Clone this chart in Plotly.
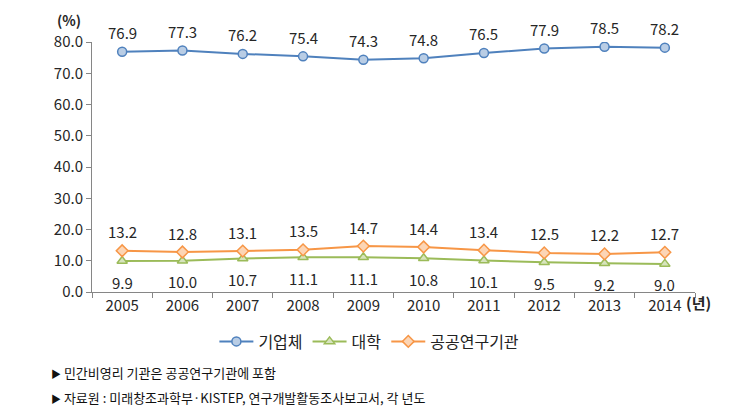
import plotly.graph_objects as go

years = ["2005", "2006", "2007", "2008", "2009", "2010", "2011", "2012", "2013", "2014"]
company = [76.9, 77.3, 76.2, 75.4, 74.3, 74.8, 76.5, 77.9, 78.5, 78.2]
university = [9.9, 10.0, 10.7, 11.1, 11.1, 10.8, 10.1, 9.5, 9.2, 9.0]
public = [13.2, 12.8, 13.1, 13.5, 14.7, 14.4, 13.4, 12.5, 12.2, 12.7]
y_ticks = [0, 10, 20, 30, 40, 50, 60, 70, 80]
notes = ["민간비영리 기관은 공공연구기관에 포함",
         "자료원 : 미래창조과학부·KISTEP, 연구개발활동조사보고서, 각 년도"]

FONT = "Noto Sans CJK KR"
TXT = "#262626"

fig = go.Figure()
fig.add_trace(go.Scatter(x=years, y=company, name="기업체", mode="lines+markers",
                         line=dict(color="#4f81bd", width=2),
                         marker=dict(symbol="circle", size=9, color="#b9cde5",
                                     line=dict(color="#4f81bd", width=1.5))))
fig.add_trace(go.Scatter(x=years, y=university, name="대학", mode="lines+markers",
                         line=dict(color="#9bbb59", width=2),
                         marker=dict(symbol="triangle-up", size=9, color="#d7e4bd",
                                     line=dict(color="#9bbb59", width=1.5))))
fig.add_trace(go.Scatter(x=years, y=public, name="공공연구기관", mode="lines+markers",
                         line=dict(color="#f79646", width=2),
                         marker=dict(symbol="diamond", size=9, color="#fcd5b5",
                                     line=dict(color="#f79646", width=1.5))))

ann = []
for i, v in enumerate(company):
    ann.append(dict(x=i, y=v, text=f"{v:.1f}", showarrow=False, yshift=19,
                    font=dict(size=15, color=TXT, family=FONT)))
for i, v in enumerate(public):
    ann.append(dict(x=i, y=v, text=f"{v:.1f}", showarrow=False, yshift=19,
                    font=dict(size=15, color=TXT, family=FONT)))
for i, v in enumerate(university):
    ann.append(dict(x=i, y=v, text=f"{v:.1f}", showarrow=False, yshift=-21,
                    font=dict(size=15, color=TXT, family=FONT)))
ann.append(dict(xref="paper", yref="paper", x=-0.015, y=1.0, yshift=34, yanchor="top",
                text="<b>(%)</b>", showarrow=False, xanchor="right",
                font=dict(size=14, color=TXT, family=FONT)))
ann.append(dict(xref="paper", yref="paper", x=1.0, y=0, yshift=-23, xshift=-11, text="<b>(년)</b>",
                showarrow=False, xanchor="left", font=dict(size=15, color=TXT, family=FONT)))
for i, n in enumerate(notes):
    ann.append(dict(xref="paper", yref="paper", x=-0.072, y=0, yshift=-80 - 25 * i,
                    yanchor="middle",
                    text="<span style='font-size:10px'>▶</span> " + n,
                    showarrow=False, xanchor="left", font=dict(size=13, color="#111", family=FONT)))

fig.update_layout(
    width=744, height=410,
    margin=dict(l=92, r=49, t=42, b=118),
    paper_bgcolor="white", plot_bgcolor="white",
    font=dict(family=FONT, color=TXT),
    showlegend=True,
    legend=dict(orientation="h", x=0.46, xanchor="center", y=-0.13, yanchor="top",
                font=dict(size=16, color="#222", family=FONT), itemwidth=34,
                tracegroupgap=0),
    annotations=ann,
)
fig.update_xaxes(type="category", range=[-0.5, 9.5], showline=True, linecolor="#868686",
                 linewidth=1, ticks="outside", tickson="boundaries", ticklen=5,
                 tickcolor="#868686", tickangle=0,
                 tickfont=dict(size=15, color=TXT, family=FONT), showgrid=False)
fig.update_yaxes(range=[0, 80], tickvals=y_ticks, tickformat=".1f", showline=True,
                 linecolor="#868686", linewidth=1, ticks="outside", ticklen=5,
                 tickcolor="#868686", tickfont=dict(size=15, color=TXT, family=FONT),
                 showgrid=False, zeroline=False)

fig.write_html("out.html")
